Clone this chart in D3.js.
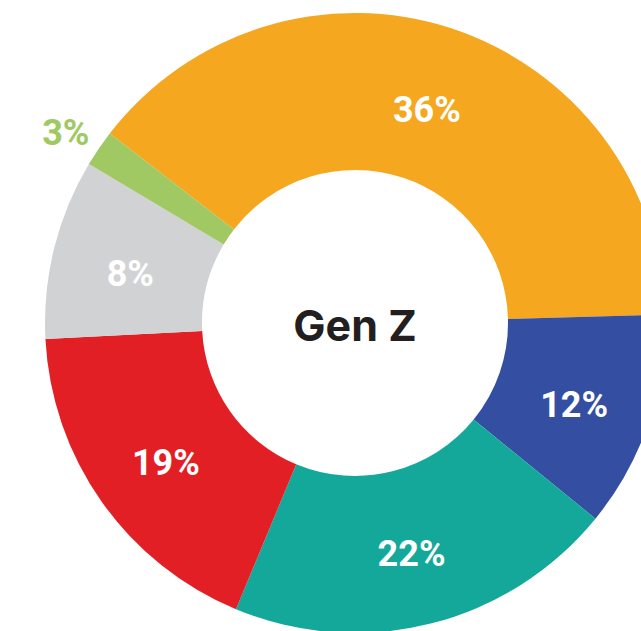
<!DOCTYPE html>
<html>
<head>
<meta charset="utf-8">
<script src="https://cdn.jsdelivr.net/npm/d3@7"></script>
<style>
  html, body { margin: 0; padding: 0; background: #fff; }
  svg { display: block; }
</style>
</head>
<body>
<div id="chart"></div>
<script>
// slices clockwise, starting from the upper-left edge of the orange one
const labels = ["36%", "12%", "22%", "19%", "8%", "3%"];
// arc sizes (they don't follow the printed % exactly)
const shares = [39.1, 11.3, 20.4, 17.9, 9.4, 1.9];
const colors = ["#f5a71f", "#344fa1", "#14a89b", "#e31f26", "#d1d2d4", "#a0c963"];
const centerTitle = "Gen Z";

const width = 641, height = 631;
const cx = 355, cy = 323;
const innerR = 153, outerR = 310;
const startDeg = -52.3;

const data = labels.map((l, i) => ({ label: l, share: shares[i], color: colors[i] }));

const svg = d3.select("#chart").append("svg")
  .attr("width", width)
  .attr("height", height);

const g = svg.append("g")
  .attr("transform", `translate(${cx},${cy})`);

const pie = d3.pie()
  .sort(null)
  .value(d => d.share)
  .startAngle(startDeg * Math.PI / 180)
  .endAngle(startDeg * Math.PI / 180 + 2 * Math.PI);

const arc = d3.arc()
  .innerRadius(innerR)
  .outerRadius(outerR);

const arcs = pie(data);

g.selectAll("path.slice")
  .data(arcs)
  .join("path")
  .attr("class", "slice")
  .attr("fill", d => d.data.color)
  .attr("d", arc);

// labels sit mid-ring (a touch low); tiny slices get theirs outside
const outsideArc = d3.arc().innerRadius(350).outerRadius(350);

g.selectAll("text.pct")
  .data(arcs)
  .join("text")
  .attr("class", "pct")
  .attr("transform", d => {
    const c = (d.data.share < 5 ? outsideArc : arc).centroid(d);
    return `translate(${c[0]},${c[1] + 6})`;
  })
  .attr("text-anchor", "middle")
  .attr("dy", "0.36em")
  .style("font-family", "Roboto, Inter, sans-serif")
  .style("font-weight", 700)
  .style("font-size", "36px")
  .attr("fill", d => d.data.share < 5 ? d.data.color : "#fff")
  .text(d => d.data.label);

g.append("text")
  .attr("text-anchor", "middle")
  .attr("dy", "0.36em")
  .attr("y", 3)
  .style("font-family", "Inter, 'Open Sans', sans-serif")
  .style("font-weight", 700)
  .style("font-size", "43px")
  .attr("fill", "#231f20")
  .text(centerTitle);
</script>
</body>
</html>
